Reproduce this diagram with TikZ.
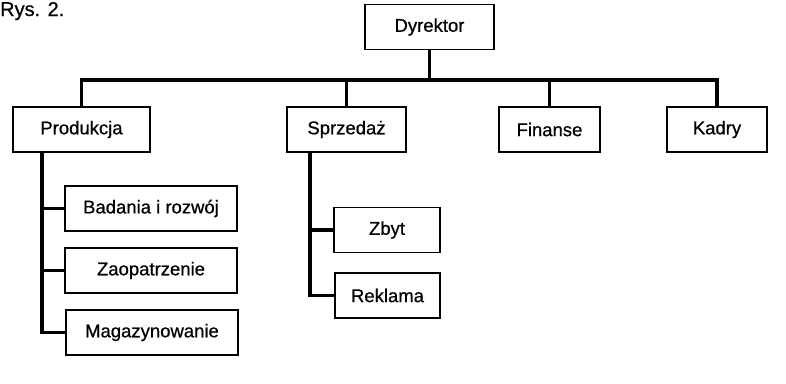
\documentclass[tikz,border=0pt]{standalone}
\usepackage{fontspec}
\setmainfont{Liberation Sans}
\newfontfamily\lblfont{Liberation Sans}[FakeBold=0.7]
\begin{document}
\begin{tikzpicture}[x=1pt,y=-1pt,
  unit/.style={draw,line width=1.8pt,minimum height=45pt,inner sep=0pt,
    font=\lblfont\fontsize{18.5}{21}\selectfont},
  conn/.style={line width=3.6pt}]
\useasboundingbox (0,0) rectangle (786,383);
% caption in the top left corner
\node[anchor=base west,inner sep=0pt,font=\lblfont\fontsize{20}{24}\selectfont] (cap) at (0,16) {Rys. 2.};

% top level
\node[unit,minimum width=129pt] (dyr) at (429.5,27) {Dyrektor};
\node[unit,minimum width=137pt] (prod) at (81.5,129.5) {Produkcja};
\node[unit,minimum width=119pt] (spr) at (346.5,129.5) {Sprzedaż};
\node[unit,minimum width=101pt] (fin) at (549.5,129.5) {Finanse};
\node[unit,minimum width=100pt] (kad) at (717,129.5) {Kadry};

% production departments
\node[unit,minimum width=172pt] (bad) at (151,208.5) {Badania i rozwój};
\node[unit,minimum width=172pt] (zao) at (151,270.5) {Zaopatrzenie};
\node[unit,minimum width=172pt] (mag) at (152,332.5) {Magazynowanie};

% sales departments
\node[unit,minimum width=106pt] (zby) at (387,230) {Zbyt};
\node[unit,minimum width=105pt] (rek) at (387.5,295.5) {Reklama};

% main bus
\coordinate (busy) at (0,80);
\draw[conn] (dyr.south) -- (dyr.south |- busy);
\draw[conn] (prod.north) -- (prod.north |- busy) -- (kad.north |- busy) -- (kad.north);
\draw[conn] (spr.north) -- (spr.north |- busy);
\draw[conn] (fin.north) -- (fin.north |- busy);

% production branch
\coordinate (pv) at ([xshift=30pt]prod.south west);
\draw[conn] (pv) |- (mag.west);
\draw[conn] (pv |- bad.west) -- (bad.west);
\draw[conn] (pv |- zao.west) -- (zao.west);

% sales branch
\coordinate (sv) at ([xshift=24pt]spr.south west);
\draw[conn] (sv) |- (rek.west);
\draw[conn] (sv |- zby.west) -- (zby.west);
\end{tikzpicture}
\end{document}
